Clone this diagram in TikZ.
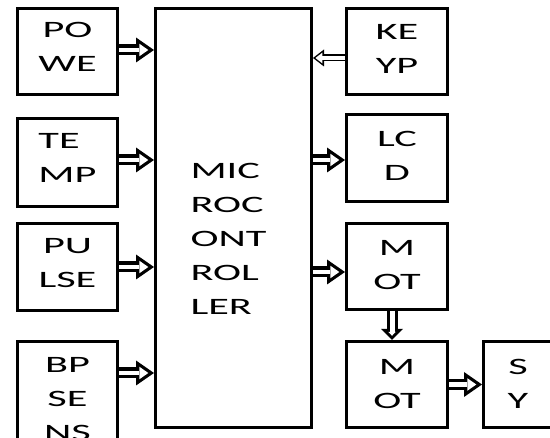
\documentclass[tikz,border=0pt]{standalone}
\usepackage{fontspec}
\setmainfont{Carlito}
\usepackage{graphicx}
\usetikzlibrary{arrows.meta,calc}
\newcommand\lbl[2][c]{\scalebox{1.8}[1]{\begin{tabular}[t]{@{}#1@{}}#2\end{tabular}}}
\begin{document}
\begin{tikzpicture}[x=1pt,y=-1pt,
  blk/.style={draw=black, line width=3pt, inner sep=0pt, anchor=north west,
    font=\fontsize{23.5}{34}\selectfont},
  bigarr/.style={draw=black, line width=11pt,
    -{Triangle[length=18pt,width=25pt,line width=0pt]},
    postaction={draw=white, line width=4.5pt, shorten >=5.7pt,
      -{Triangle[length=9pt,width=12.6pt,line width=0pt]}}},
  smallarr/.style={draw=black, line width=7pt,
    -{Triangle[length=11pt,width=17pt,line width=0pt]},
    postaction={draw=white, line width=4pt, shorten >=2.45pt,
      -{Triangle[length=7pt,width=10.9pt,line width=0pt]}}},
  vertarr/.style={draw=black, line width=11pt,
    -{Triangle[length=11pt,width=22pt,line width=0pt]},
    postaction={draw=white, line width=5pt, shorten >=4.24pt,
      -{Triangle[length=3.8pt,width=7.5pt,line width=0pt]}}}]
\useasboundingbox (0,0) rectangle (550,438);
% left column
\node[blk, minimum width=100pt, text height=29.5pt, text depth=56.5pt] (powe) at (16,7) {\lbl{PO\\WE}};
\node[blk, minimum width=100pt, text height=30.5pt, text depth=57.5pt] (temp) at (16,117) {\lbl[l]{TE\\MP}};
\node[blk, minimum width=100pt, text height=30.5pt, text depth=56.5pt] (pulse) at (16,222) {\lbl{PU\\LSE}};
\node[blk, minimum width=100pt, text height=31.5pt, text depth=150pt] (bp) at (16,340) {\lbl{BP\\SE\\NS}};
% microcontroller
\node[blk, minimum width=156pt, text height=170.5pt, text depth=248.5pt] (mc) at (154,7) {\lbl[l]{MIC\\ROC\\ONT\\ROL\\LER}\hspace*{10pt}};
% right column
\node[blk, minimum width=101pt, text height=31.5pt, text depth=54.5pt] (keyp) at (345,7) {\lbl{KE\\YP}};
\node[blk, minimum width=101pt, text height=32.5pt, text depth=54.5pt] (lcd) at (345,113) {\lbl{LC\\D}};
\node[blk, minimum width=101pt, text height=32.5pt, text depth=53.5pt] (mot) at (345,222) {\lbl{M\\OT}};
\node[blk, minimum width=101pt, text height=33.5pt, text depth=52.5pt] (motb) at (345,340) {\lbl{M\\OT}};
\node[blk, minimum width=69pt, text height=33.5pt, text depth=52.5pt] (sy) at (482,340) {\lbl{S\\Y}};
% connectors
\draw[bigarr] ([yshift=1.5pt]powe.east) -- ([yshift=1.5pt]powe.east -| mc.west);
\draw[bigarr] ([yshift=2.5pt]temp.east) -- ([yshift=2.5pt]temp.east -| mc.west);
\draw[bigarr] (pulse.east) -- (pulse.east -| mc.west);
\draw[bigarr] ([yshift=-33pt]bp.north east) -- ([yshift=-33pt]bp.north east -| mc.west);
\draw[smallarr] ([yshift=-6.5pt]keyp.west) -- ([yshift=-6.5pt]keyp.west -| mc.east);
\draw[bigarr] ([yshift=-2pt]lcd.west -| mc.east) -- ([yshift=-2pt]lcd.west);
\draw[bigarr] ([yshift=-5.5pt]mot.west -| mc.east) -- ([yshift=-5.5pt]mot.west);
\draw[vertarr] ([xshift=-5pt]mot.south) -- ([xshift=-5pt]motb.north);
\draw[bigarr] (motb.east) -- (motb.east -| sy.west);
\end{tikzpicture}
\end{document}
